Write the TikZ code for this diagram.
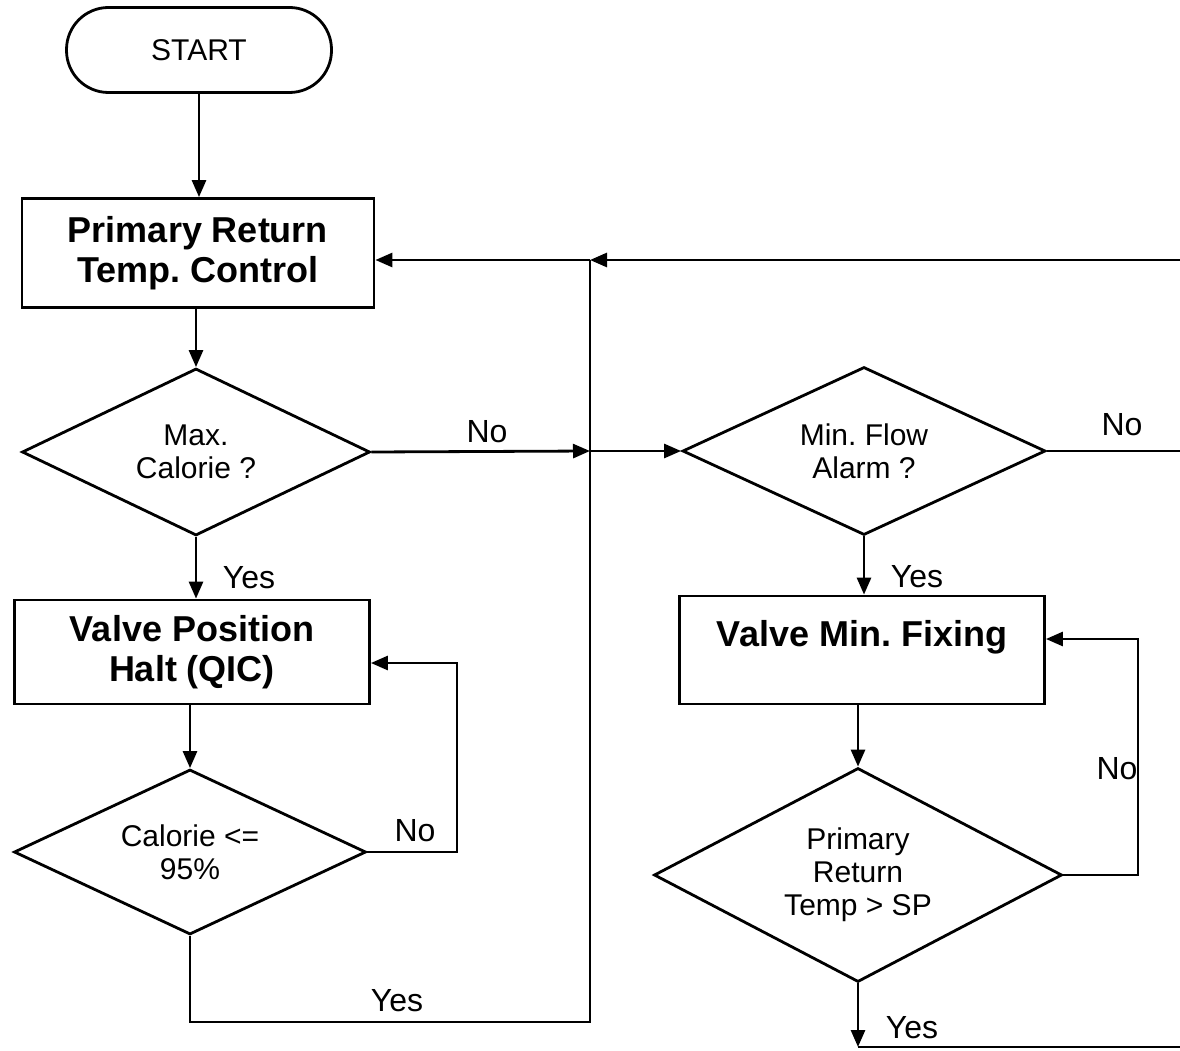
\documentclass[tikz,border=0pt]{standalone}
\usepackage{fontspec}
\setmainfont{Liberation Sans}
\usetikzlibrary{shapes.geometric,arrows.meta}
\frenchspacing

\tikzset{
    startstop/.style={draw, rectangle, rounded corners=42pt, minimum width=265pt, minimum height=85pt, font=\fontsize{30}{33}\selectfont},
    process/.style={draw, rectangle, align=center, font=\bfseries\fontsize{36}{40}\selectfont},
    decision/.style={draw, diamond, aspect=2, inner sep=0pt, align=center, font=\fontsize{30}{33}\selectfont},
    answer/.style={font=\fontsize{32}{34}\selectfont}
}

\begin{document}
\begin{tikzpicture}[x=1pt, y=-1pt, line width=2.8pt, >={Triangle[length=17pt, width=14pt]}]
        \useasboundingbox (0, 0) rectangle (1180, 1051);

        \node[startstop] (start) at (199, 50) {START};
        \node[process, minimum width=352pt, minimum height=109pt] (prt) at (198, 253) {Primary Return\\Temp. Control};
        \node[decision, minimum width=348pt, minimum height=167pt] (maxcal) at (196, 452) {Max.\\Calorie ?};
        \node[process, minimum width=355pt, minimum height=104pt] (halt) at (192, 652) {Valve Position\\Halt (QIC)};
        \node[decision, minimum width=352pt, minimum height=165pt] (cal95) at (190, 852) {Calorie <=\\95\%};
        \node[decision, minimum width=363pt, minimum height=168pt] (minflow) at (864, 451) {Min. Flow\\Alarm ?};
        \node[process, minimum width=365pt, minimum height=108pt, text depth=34pt] (fixing) at (862, 650) {Valve Min. Fixing};
        \node[decision, minimum width=408pt, minimum height=214pt] (tempsp) at (858, 875) {Primary\\Return\\Temp > SP};

        \coordinate (j1) at (590, 451);
        \coordinate (j2) at (590, 260);
        \coordinate (toprt) at (1180, 260);
        \coordinate (midrt) at (1180, 451);
        \coordinate (botrt) at (1180, 1047);
        \coordinate (loopa) at (457, 663);
        \coordinate (loopb) at (1138, 639);
        \coordinate (ybot) at (590, 1022);

        \draw[->] (start.south) -- (start.south |- prt.north);
        \draw[->] (maxcal.north |- prt.south) -- (maxcal.north);
        \draw[->] (maxcal.east) -- (j1);
        \draw[->] (j1) -- (minflow.west);
        \draw[->] (maxcal.south) -- (maxcal.south |- halt.north);
        \draw[->] (cal95.north |- halt.south) -- (cal95.north);
        \draw[->] (cal95.east) -| (loopa) -- (halt.east |- loopa);
        \draw (cal95.south) |- (ybot) -- (j2);
        \draw[->] (toprt) -- (j2);
        \draw[->] (j2) -- (prt.east |- j2);
        \draw (minflow.east) -- (midrt);
        \draw[->] (minflow.south) -- (minflow.south |- fixing.north);
        \draw[->] (tempsp.north |- fixing.south) -- (tempsp.north);
        \draw[->] (tempsp.east) -| (loopb) -- (fixing.east |- loopb);
        \draw[->] (tempsp.south) -- (tempsp.south |- botrt);
        \draw (tempsp.south |- botrt) -- (botrt);

        \node[answer] (no1) at (487, 432) {No};
        \node[answer] (yes1) at (249, 578) {Yes};
        \node[answer] (no2) at (1122, 425) {No};
        \node[answer] (yes2) at (917, 577) {Yes};
        \node[answer] (no3) at (415, 831) {No};
        \node[answer] (yes3) at (397, 1001) {Yes};
        \node[answer] (no4) at (1117, 769) {No};
        \node[answer] (yes4) at (912, 1028) {Yes};
    \end{tikzpicture}
\end{document}
